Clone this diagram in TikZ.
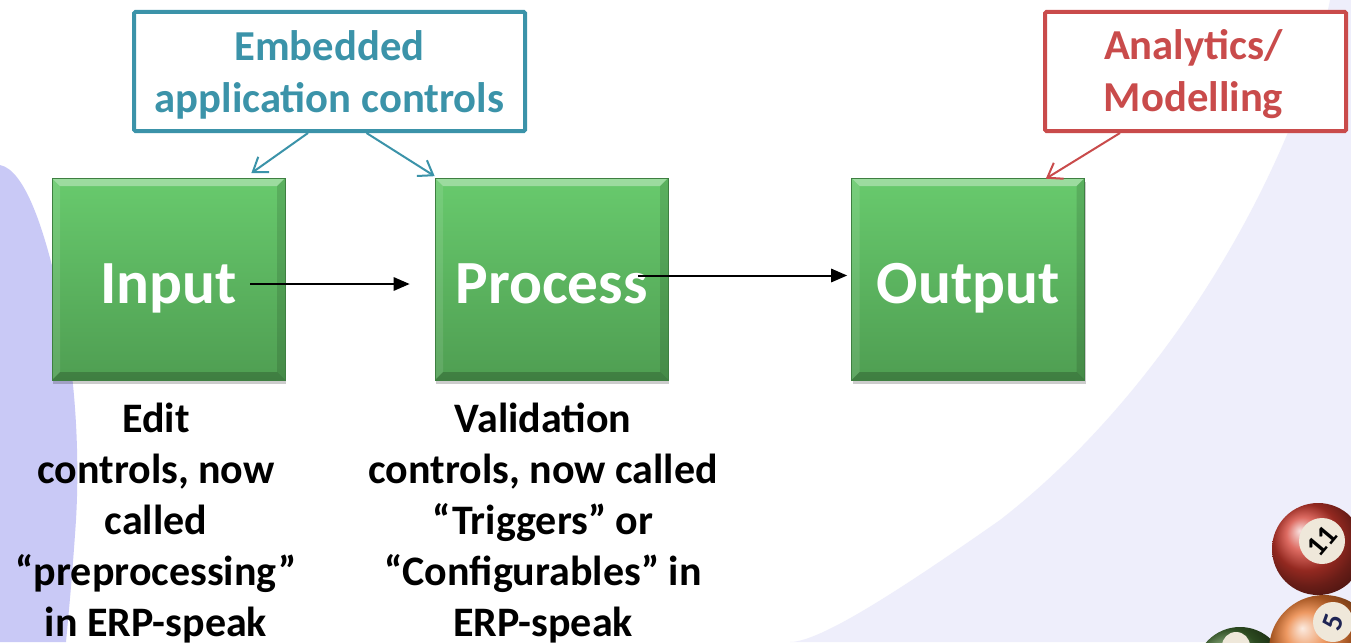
\documentclass[tikz,border=0pt]{standalone}
\usepackage{fontspec}
\setmainfont{Carlito}
\usetikzlibrary{arrows.meta,calc,shadows}

\definecolor{lavleft}{HTML}{C9C9F6}
\definecolor{lavright}{HTML}{EEEEFB}
\definecolor{tealc}{HTML}{3B93A9}
\definecolor{redc}{HTML}{C94B4B}
\definecolor{gtop}{HTML}{68CA6D}
\definecolor{gbot}{HTML}{4F9E52}
\definecolor{gedge}{HTML}{3E7F41}
\definecolor{ballred}{HTML}{D23A2E}
\definecolor{ballorange}{HTML}{E8772E}
\definecolor{ballgreen}{HTML}{3F6A2E}
\definecolor{cream}{HTML}{EFE8DA}
\definecolor{navy}{HTML}{1E2454}

\tikzset{
  gbox/.style={minimum width=174.75pt, minimum height=151.5pt, inner sep=0pt,
    top color=gtop, bottom color=gbot, draw=gedge, line width=0.5pt,
    text=white, font=\fontsize{46}{50}\selectfont\bfseries,
    text height=36pt, text depth=0pt,
    drop shadow={shadow xshift=1pt, shadow yshift=-3pt, opacity=0.2, fill=black},
    path picture={
      \path (path picture bounding box.north west) coordinate (bnw)
            (path picture bounding box.north east) coordinate (bne)
            (path picture bounding box.south west) coordinate (bsw)
            (path picture bounding box.south east) coordinate (bse);
      \fill[white, opacity=0.35] (bnw) -- (bne) -- ($(bne)+(-8,8)$) -- ($(bnw)+(8,8)$) -- cycle;
      \fill[white, opacity=0.1] (bnw) -- ($(bnw)+(8,8)$) -- ($(bsw)+(8,-8)$) -- (bsw) -- cycle;
      \fill[black, opacity=0.12] (bne) -- ($(bne)+(-8,8)$) -- ($(bse)+(-8,-8)$) -- (bse) -- cycle;
      \fill[black, opacity=0.2] (bsw) -- ($(bsw)+(8,-8)$) -- ($(bse)+(-8,-8)$) -- (bse) -- cycle;
    }},
  callout/.style={draw, line width=3pt, fill=white, inner sep=0pt,
    rounded corners=1pt, minimum height=89.25pt},
  callouttext/.style={inner sep=0pt, align=center,
    font=\fontsize{32}{39}\selectfont\bfseries},
  note/.style={align=center, font=\fontsize{31.5}{38.25}\selectfont\bfseries,
    inner sep=0pt, anchor=north, text=black},
  flow/.style={line width=1.5pt, -{Triangle[length=12pt,width=10pt]}},
  pointer/.style={line width=1.5pt, -{Straight Barb[length=10pt,width=14pt,line width=1.5pt]}},
  balltext/.style={inner sep=0pt, font=\fontsize{22}{22}\selectfont\bfseries}
}

\begin{document}
\begin{tikzpicture}[x=0.75pt,y=-0.75pt]
\useasboundingbox (0,0) rectangle (1351,642);
\clip (0,0) rectangle (1351,642);
\fill[white] (0,0) rectangle (1351,642);

% soft background swooshes
\fill[lavright] (1330,0) .. controls (1300,150) and (1180,380) .. (1000,520)
  .. controls (900,590) and (820,642) .. (790,642) -- (1351,642) -- (1351,0) -- cycle;
\fill[lavleft] (0,165) .. controls (25,170) and (45,230) .. (60,300)
  .. controls (75,370) and (80,450) .. (76,520)
  .. controls (72,580) and (68,620) .. (66,642) -- (0,642) -- cycle;

% billiard balls
\shade[ball color=ballgreen] (1240,672) circle[radius=45];
\fill[cream] (1236,646) circle[radius=14];
\shade[ball color=ballred] (1318,549) circle[radius=46];
\fill[cream] (1322,541) circle[radius=23];
\node[balltext, rotate=50] (n11) at (1322,541) {11};
\shade[ball color=ballorange] (1324,650) circle[radius=55];
\fill[cream] (1333,622) circle[radius=20];
\node[balltext, rotate=70, text=navy] (n5) at (1333,622) {5};

% main flow
\node[gbox] (input) at (168.5,279) {Input};
\node[gbox] (process) at (551.5,279) {Process};
\node[gbox] (output) at (968,279) {Output};

\draw[flow] ($(input.center)+(81.5,5)$) -- ($(process.west)+(-25,5)$);
\draw[flow] ($(process.center)+(86.5,-3.5)$) -- ($(output.west)+(-4,-3.5)$);

% callouts
\node[callout, draw=tealc, minimum width=293.25pt] (embedded) at (329.5,71.5) {};
\node[callouttext, text=tealc] (embeddedtext) at ($(embedded.center)+(0,3)$)
  {Embedded\\application controls};
\node[callout, draw=redc, minimum width=225.75pt] (analytics) at (1195.5,71.5) {};
\node[callouttext, text=redc] (analyticstext) at ($(analytics.center)+(-2,3)$)
  {Analytics/\\Modelling};

\draw[pointer, tealc] ($(embedded.south)+(-21.5,0)$) -- ($(input.north east)+(-34,-4.5)$);
\draw[pointer, tealc] ($(embedded.south)+(37,0)$) -- ($(process.north west)+(0,-1.5)$);
\draw[pointer, redc] ($(analytics.south)+(-75.5,0)$) -- ($(output.north east)+(-39,1)$);

% notes under the boxes
\node[note] (inputnote) at ($(input.south)+(-12.5,22)$)
  {Edit\\controls, now\\called\\“preprocessing”\\in ERP-speak};
\node[note] (processnote) at ($(process.south)+(-8.5,22)$)
  {Validation\\controls, now called\\“Triggers” or\\“Configurables” in\\ERP-speak};
\end{tikzpicture}
\end{document}
